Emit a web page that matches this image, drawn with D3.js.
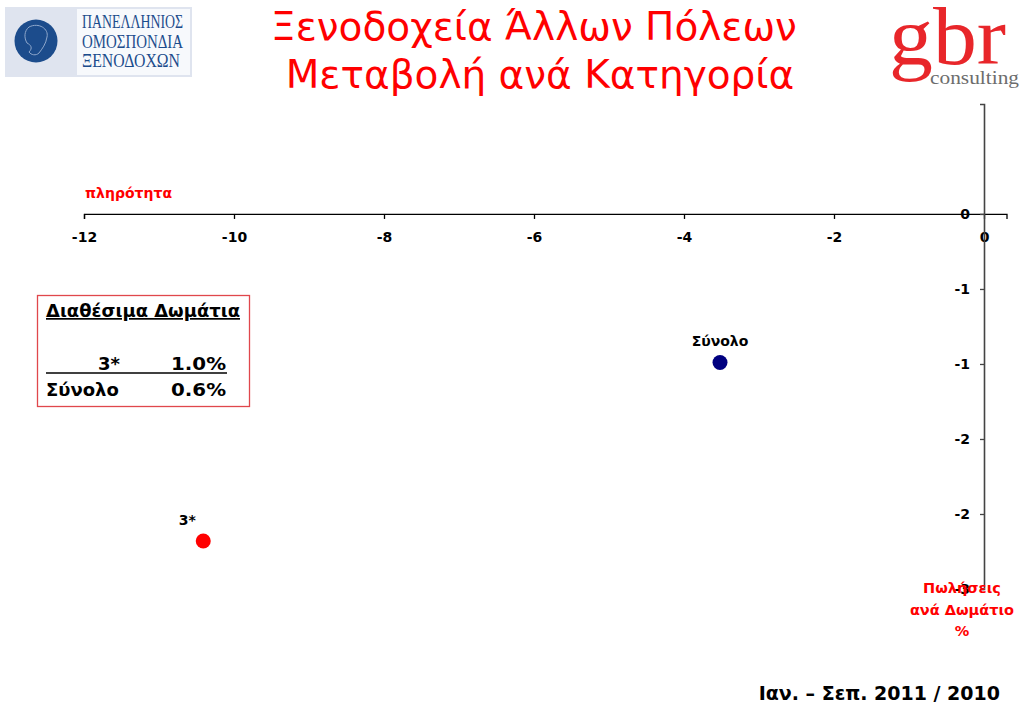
<!DOCTYPE html>
<html>
<head>
<meta charset="utf-8">
<script src="https://cdn.jsdelivr.net/npm/d3@7"></script>
<style>
  html, body { margin: 0; padding: 0; background: #fff; }
  svg { display: block; }
</style>
</head>
<body>
<svg id="chart" width="1023" height="708"></svg>
<script>
// ---- data ----
const categories = ["3*", "Σύνολο"];
const occupancyChange = [-10.41, -3.52];   // x: πληρότητα %
const revparChange = [-2.18, -0.99];       // y: πωλήσεις ανά δωμάτιο %
const xTicks = [-12, -10, -8, -6, -4, -2, 0];
const yTicks = [0, -0.5, -1, -1.5, -2, -2.5];
const legendLabels = ["3*", "Σύνολο"];
const legendValues = ["1.0%", "0.6%"];
const titleLines = ["Ξενοδοχεία Άλλων Πόλεων", "Μεταβολή ανά Κατηγορία"];

const pointColor = d3.scaleOrdinal(categories, ["#ff0000", "#000080"]);

const svg = d3.select("#chart");
const RED = "#ff0000";
const F = "DejaVu Sans, Verdana, sans-serif";

// ---- scales ----
const x = d3.scaleLinear().domain([-12, 0.3]).range([84, 1006.5]);
const y = d3.scaleLinear().domain([-2.5, 0.733]).range([589, 104]);

// ---- title ----
svg.selectAll("text.title").data(titleLines).join("text")
  .attr("class", "title")
  .attr("x", (d, i) => i === 0 ? 534 : 540)
  .attr("y", (d, i) => 40 + i * 48)
  .attr("text-anchor", "middle")
  .attr("font-family", F)
  .attr("font-size", 39)
  .attr("fill", RED)
  .text(d => d);

// ---- left logo ----
const logo = svg.append("g");
logo.append("rect").attr("x", 5).attr("y", 7).attr("width", 187).attr("height", 70).attr("fill", "#dfe4ef");
logo.append("rect").attr("x", 77).attr("y", 9).attr("width", 113).attr("height", 66).attr("fill", "#f7f9fc");
logo.append("circle").attr("cx", 36).attr("cy", 41).attr("r", 21.5).attr("fill", "#1c4c8c");
logo.append("path").attr("d", "M29,27 C39,22 49,29 47,37 C46,44 42,49 39,53 C36,56 31,55 29,52 C33,48 31,45 27,43 C24,38 24,31 29,27 Z")
  .attr("fill", "none").attr("stroke", "#8fa8cc").attr("stroke-width", 1);
logo.selectAll("text").data(["ΠΑΝΕΛΛΗΝΙΟΣ", "ΟΜΟΣΠΟΝΔΙΑ", "ΞΕΝΟΔΟΧΩΝ"]).join("text")
  .attr("x", 82).attr("y", (d, i) => 28 + i * 19.5)
  .attr("font-family", "Liberation Serif, serif")
  .attr("font-size", 19)
  .attr("fill", "#1c4c8c")
  .attr("textLength", (d, i) => i === 2 ? 98 : 101)
  .attr("lengthAdjust", "spacingAndGlyphs")
  .text(d => d);

// ---- right logo ----
svg.append("text").attr("x", 889).attr("y", 64)
  .attr("font-family", "Liberation Serif, serif").attr("font-size", 82)
  .attr("fill", "#e8262a").attr("textLength", 117).attr("lengthAdjust", "spacingAndGlyphs")
  .text("gbr");
svg.append("text").attr("x", 930).attr("y", 84)
  .attr("font-family", "Liberation Serif, serif").attr("font-size", 19)
  .attr("fill", "#6d6d6d").attr("textLength", 89).attr("lengthAdjust", "spacingAndGlyphs")
  .text("consulting");

// ---- axes ----
const hyphenFmt = v => String(v);
const xAxis = svg.append("g").attr("transform", `translate(0,${y(0)})`)
  .call(d3.axisBottom(x).tickValues(xTicks).tickSize(5).tickPadding(13).tickFormat(hyphenFmt));
xAxis.select(".domain").attr("stroke", "#000").attr("stroke-width", 1.3);
xAxis.selectAll(".tick line").attr("stroke", "#000").attr("stroke-width", 1.3);
xAxis.selectAll(".tick text").attr("font-family", F).attr("font-size", 14)
  .attr("font-weight", "bold").attr("fill", "#000");

const roundAway = v => { const r = Math.sign(v) * Math.round(Math.abs(v) + 1e-9); return r === 0 ? "0" : String(r); };
const yAxis = svg.append("g").attr("transform", `translate(${x(0)},0)`)
  .call(d3.axisLeft(y).tickValues(yTicks).tickSize(4).tickPadding(10).tickFormat(roundAway));
yAxis.select(".domain").attr("stroke", "#444").attr("stroke-width", 1.6);
yAxis.selectAll(".tick line").attr("stroke", "#444").attr("stroke-width", 1.3);
yAxis.selectAll(".tick text").attr("font-family", F).attr("font-size", 14)
  .attr("font-weight", "bold").attr("fill", "#000");

// axis titles
svg.append("text").attr("x", 85).attr("y", 198)
  .attr("font-family", F).attr("font-size", 14).attr("font-weight", "bold")
  .attr("fill", RED).text("πληρότητα");
svg.selectAll("text.ytitle").data(["Πωλήσεις", "ανά Δωμάτιο", "%"]).join("text")
  .attr("class", "ytitle")
  .attr("x", 962).attr("y", (d, i) => 593 + i * 21.5)
  .attr("text-anchor", "middle")
  .attr("font-family", F).attr("font-size", 14.5).attr("font-weight", "bold")
  .attr("fill", RED).text(d => d);

// ---- points ----
const pts = categories.map((c, i) => ({ c, x: occupancyChange[i], y: revparChange[i] }));
svg.selectAll("circle.pt").data(pts).join("circle")
  .attr("class", "pt")
  .attr("cx", d => x(d.x)).attr("cy", d => y(d.y)).attr("r", 7.5)
  .attr("fill", d => pointColor(d.c));
svg.selectAll("text.pl").data(pts).join("text")
  .attr("class", "pl")
  .attr("x", d => d.c === "3*" ? x(d.x) - 16 : x(d.x))
  .attr("y", d => y(d.y) - 16)
  .attr("text-anchor", "middle")
  .attr("font-family", F).attr("font-size", 14).attr("font-weight", "bold")
  .attr("fill", "#000").text(d => d.c);

// ---- legend box ----
const lg = svg.append("g");
lg.append("rect").attr("x", 37.5).attr("y", 295.5).attr("width", 212).attr("height", 111)
  .attr("fill", "none").attr("stroke", "#e0474c").attr("stroke-width", 1.3);
lg.append("text").attr("x", 46).attr("y", 317)
  .attr("font-family", F).attr("font-size", 17).attr("font-weight", "bold")
  .attr("text-decoration", "underline").attr("fill", "#000")
  .attr("textLength", 194).attr("lengthAdjust", "spacingAndGlyphs")
  .text("Διαθέσιμα Δωμάτια");
legendLabels.forEach((lab, i) => {
  const by = 370 + i * 26;
  lg.append("text").attr("x", i === 0 ? 120 : 46).attr("y", by)
    .attr("text-anchor", i === 0 ? "end" : "start")
    .attr("font-family", F).attr("font-size", 18).attr("font-weight", "bold")
    .attr("fill", "#000").text(lab);
  lg.append("text").attr("x", 226).attr("y", by)
    .attr("text-anchor", "end")
    .attr("font-family", F).attr("font-size", 18).attr("font-weight", "bold")
    .attr("textLength", 55).attr("lengthAdjust", "spacingAndGlyphs")
    .attr("fill", "#000").text(legendValues[i]);
});
lg.append("line").attr("x1", 46).attr("x2", 227).attr("y1", 373).attr("y2", 373)
  .attr("stroke", "#000").attr("stroke-width", 1.3);

// ---- footer ----
svg.append("text").attr("x", 1000).attr("y", 700).attr("text-anchor", "end")
  .attr("font-family", F).attr("font-size", 19).attr("font-weight", "bold")
  .attr("fill", "#000").text("Ιαν. – Σεπ. 2011 / 2010");
</script>
</body>
</html>
